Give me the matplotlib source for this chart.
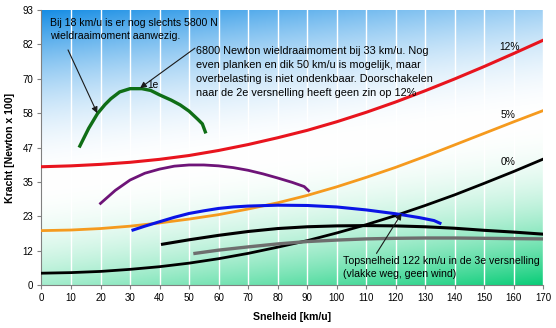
import numpy as np
import matplotlib
matplotlib.use("Agg")
import matplotlib.pyplot as plt

plt.rcParams['font.family'] = ['Liberation Sans', 'DejaVu Sans']

# ---- data (speed km/u, force Newton x 100) ----
res12_x = [0, 10, 20, 30, 40, 50, 60, 70, 80, 90, 100, 110, 120, 130, 140, 150, 160, 170]
res12_y = [40, 40.3, 40.8, 41.5, 42.5, 43.8, 45.5, 47.5, 49.8, 52.3, 55.2, 58.4, 61.9, 65.7, 69.7, 73.9, 78.3, 82.8]

res5_x = [0, 10, 20, 30, 40, 50, 60, 70, 80, 90, 100, 110, 120, 130, 140, 150, 160, 170]
res5_y = [18.4, 18.6, 19.1, 19.9, 21.0, 22.3, 23.8, 25.7, 27.8, 30.3, 33.2, 36.4, 39.8, 43.5, 47.4, 51.3, 55.2, 59.0]

res0_x = [0, 10, 20, 30, 40, 50, 60, 70, 80, 90, 100, 110, 120, 130, 140, 150, 160, 170]
res0_y = [4.0, 4.2, 4.6, 5.3, 6.2, 7.4, 8.9, 10.7, 12.8, 15.0, 17.6, 20.4, 23.5, 26.9, 30.5, 34.4, 38.4, 42.6]

g1_x = [13, 16, 19, 21.5, 23.5, 26.5, 30, 34, 37, 40, 44, 47, 50, 53, 54.5, 55.5]
g1_y = [47, 53, 58, 61, 63, 65.3, 66.4, 66.4, 65.8, 64.3, 62.5, 60.9, 58.8, 56, 54.5, 51.8]

g2_x = [20, 25, 30, 35, 40, 45, 50, 55, 60, 65, 70, 75, 80, 85, 89, 90.5]
g2_y = [27.6, 32, 35.5, 37.8, 39.2, 40.2, 40.6, 40.6, 40.3, 39.7, 38.8, 37.6, 36.2, 34.7, 33.3, 31.9]

g3_x = [31, 35, 40, 45, 50, 55, 60, 65, 70, 80, 90, 100, 110, 120, 128, 133, 135]
g3_y = [18.6, 19.9, 21.4, 22.9, 24.2, 25.1, 25.9, 26.4, 26.7, 27.0, 26.9, 26.4, 25.4, 24.1, 22.8, 21.8, 20.9]

g4_x = [41, 50, 60, 70, 80, 90, 100, 110, 120, 130, 140, 150, 160, 170]
g4_y = [13.8, 15.3, 16.8, 18.1, 19.1, 19.7, 20.0, 20.1, 20.0, 19.7, 19.2, 18.5, 17.9, 17.2]

g5_x = [52, 60, 70, 80, 90, 100, 110, 120, 130, 140, 150, 160, 170]
g5_y = [10.7, 11.8, 12.9, 13.9, 14.7, 15.2, 15.6, 15.8, 15.9, 15.9, 15.8, 15.7, 15.6]

x_ticks = list(range(0, 171, 10))
y_ticks = [i * 93 / 8 for i in range(9)]
y_tick_labels = ['0', '12', '23', '35', '47', '58', '70', '82', '93']

fig = plt.figure(figsize=(5.56, 3.28), dpi=100)
ax = fig.add_axes([0.0746, 0.131, 0.9025, 0.8385])
ax.set_xlim(0, 170)
ax.set_ylim(0, 93)

# background gradient
ny, nx = 200, 300
u = np.linspace(0, 1, ny)[:, None]  # 0 bottom, 1 top
w = np.linspace(0, 1, nx)[None, :]
d = u - 0.23 * w
mid = 0.38
b = np.clip((d - mid) / (1 - mid), 0, 1) ** 1.9
g = np.clip((mid - d) / (mid + 0.23), 0, 1) ** 2.1
white = np.array([1.0, 1.0, 1.0])
blue = np.array([20, 140, 228]) / 255
green = np.array([10, 205, 120]) / 255
img = (white[None, None, :] * (1 - b[..., None] - g[..., None])
       + blue[None, None, :] * b[..., None] + green[None, None, :] * g[..., None])
ax.imshow(img, extent=[0, 170, 0, 93], origin='lower', aspect='auto', zorder=0,
          interpolation='bilinear')

for xv in x_ticks[1:]:
    ax.axvline(xv, color='white', lw=1.0, zorder=1)

ax.plot(res12_x, res12_y, color='#e8141e', lw=2.2, zorder=3)
ax.plot(res5_x, res5_y, color='#f59a1e', lw=2.0, zorder=3)
ax.plot(res0_x, res0_y, color='#000000', lw=2.0, zorder=3)
ax.plot(g1_x, g1_y, color='#0f6e16', lw=2.4, zorder=3)
ax.plot(g2_x, g2_y, color='#6e1478', lw=2.0, zorder=3)
ax.plot(g3_x, g3_y, color='#0a14e6', lw=2.2, zorder=3)
ax.plot(g4_x, g4_y, color='#000000', lw=2.2, zorder=3)
ax.plot(g5_x, g5_y, color='#6e6e6e', lw=2.4, zorder=3)

fs = 7.4
ax.text(158.5, 80.6, '12%', fontsize=fs, ha='center', va='center', zorder=4)
ax.text(158.0, 57.5, '5%', fontsize=fs, ha='center', va='center', zorder=4)
ax.text(158.0, 41.7, '0%', fontsize=fs, ha='center', va='center', zorder=4)
ax.text(36.0, 67.6, '1e', fontsize=fs, ha='left', va='center', zorder=4)

ax.text(3.0, 86.5, 'Bij 18 km/u is er nog slechts 5800 N\nwieldraaimoment aanwezig.',
        fontsize=7.6, ha='left', va='center', linespacing=1.4, zorder=4)
ax.text(52.5, 72.0, '6800 Newton wieldraaimoment bij 33 km/u. Nog\n'
        'even planken en dik 50 km/u is mogelijk, maar\n'
        'overbelasting is niet ondenkbaar. Doorschakelen\n'
        'naar de 2e versnelling heeft geen zin op 12%',
        fontsize=7.8, ha='left', va='center', linespacing=1.5, zorder=4)
ax.text(102.0, 6.0, 'Topsnelheid 122 km/u in de 3e versnelling\n(vlakke weg, geen wind)',
        fontsize=7.6, ha='left', va='center', linespacing=1.35, zorder=4)

ap = dict(arrowstyle='-|>', color='#1a1a1a', lw=0.8, mutation_scale=9, shrinkA=0, shrinkB=0)
ax.annotate('', xy=(18.9, 58.1), xytext=(9.0, 79.5), arrowprops=ap, zorder=5)
ax.annotate('', xy=(33.4, 66.6), xytext=(52.0, 80.1), arrowprops=ap, zorder=5)
ax.annotate('', xy=(122.0, 24.2), xytext=(113.5, 10.7), arrowprops=ap, zorder=5)

ax.set_xticks(x_ticks)
ax.set_xticklabels([str(v) for v in x_ticks], fontsize=7)
ax.set_yticks(y_ticks)
ax.set_yticklabels(y_tick_labels, fontsize=7)
ax.tick_params(axis='both', length=3, color='#808080', width=0.8, pad=3)
for s in ['top', 'right']:
    ax.spines[s].set_visible(False)
for s in ['left', 'bottom']:
    ax.spines[s].set_color('#808080')
    ax.spines[s].set_linewidth(0.8)

ax.set_xlabel('Snelheid [km/u]', fontsize=7.6, fontweight='bold', labelpad=6)
ax.set_ylabel('Kracht [Newton x 100]', fontsize=7.6, fontweight='bold', labelpad=5)

fig.savefig('out.png', dpi=100)
